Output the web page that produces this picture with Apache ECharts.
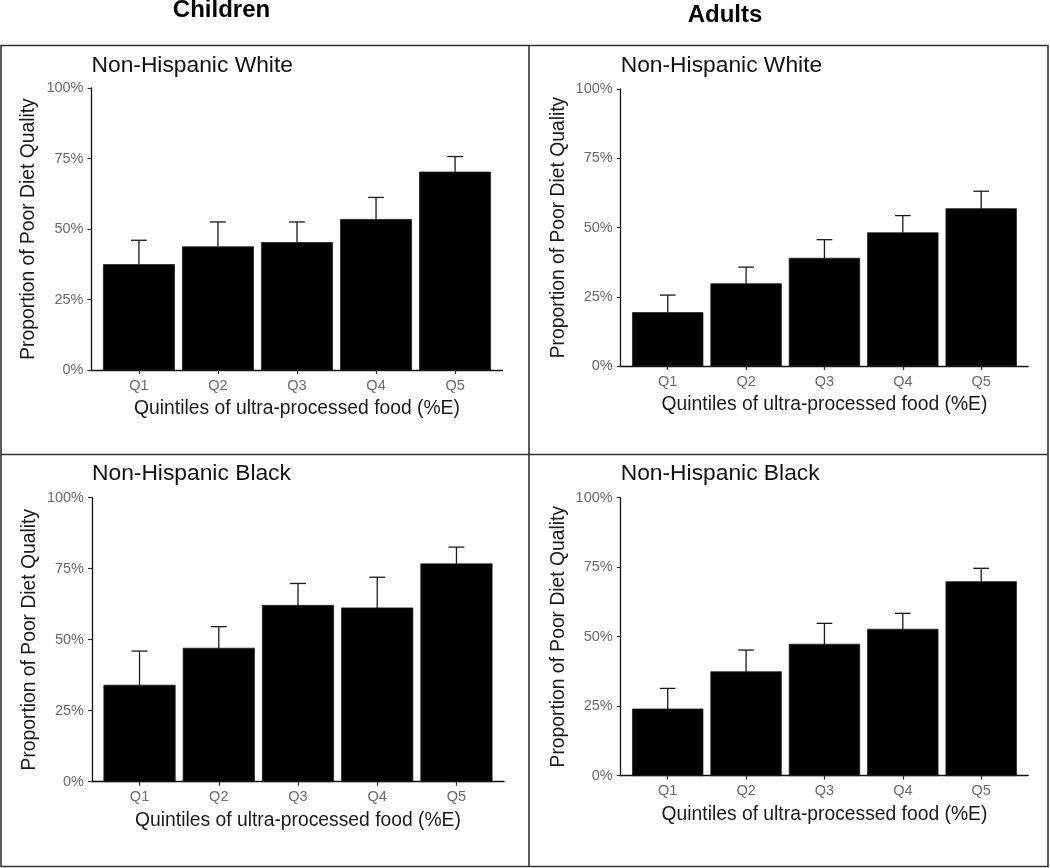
<!DOCTYPE html>
<html>
<head>
<meta charset="utf-8">
<script src="https://cdn.jsdelivr.net/npm/echarts@6/dist/echarts.min.js"></script>
<style>
html,body{margin:0;padding:0;background:#fff;}
#chart{width:1050px;height:868px;}
</style>
</head>
<body>
<div id="chart"></div>
<script>
// ---- data (percent) ----
const categories = ['Q1', 'Q2', 'Q3', 'Q4', 'Q5'];
const yTicks = [0, 25, 50, 75, 100];
const columnHeaders = ['Children', 'Adults'];
const panelTitles = ['Non-Hispanic White', 'Non-Hispanic White', 'Non-Hispanic Black', 'Non-Hispanic Black'];
const yTitle = 'Proportion of Poor Diet Quality';
const xTitle = 'Quintiles of ultra-processed food (%E)';

const childWhite      = [37.4, 43.7, 45.2, 53.4, 70.2];
const childWhiteUpper = [46.0, 52.5, 52.5, 61.2, 75.7];
const adultWhite      = [19.3, 29.7, 38.9, 48.1, 56.8];
const adultWhiteUpper = [25.6, 35.7, 45.6, 54.3, 63.1];
const childBlack      = [34.0, 47.0, 62.1, 61.2, 76.7];
const childBlackUpper = [46.0, 54.6, 69.8, 72.0, 82.6];
const adultBlack      = [24.0, 37.4, 47.3, 52.7, 69.8];
const adultBlackUpper = [31.4, 45.2, 54.8, 58.4, 74.6];

const panels = [
  {vals: childWhite, upper: childWhiteUpper, title: panelTitles[0], titleY: 66, grid: {left: 91.5, width: 411, top: 88, height: 282}},
  {vals: adultWhite, upper: adultWhiteUpper, title: panelTitles[1], titleY: 66, grid: {left: 620.7, width: 407.5, top: 89, height: 277}},
  {vals: childBlack, upper: childBlackUpper, title: panelTitles[2], titleY: 474, grid: {left: 92, width: 412, top: 497.7, height: 284}},
  {vals: adultBlack, upper: adultBlackUpper, title: panelTitles[3], titleY: 474, grid: {left: 620.7, width: 407.5, top: 497.7, height: 278}}
];

const FONT = "'Liberation Sans', Arial, Helvetica, sans-serif";
const chart = echarts.init(document.getElementById('chart'), null, {renderer: 'canvas'});

const grids = [], xAxes = [], yAxes = [], series = [], graphics = [];
const positions = categories.map((c, i) => i + 1);

panels.forEach((p, k) => {
  grids.push({left: p.grid.left, width: p.grid.width, top: p.grid.top, height: p.grid.height, containLabel: false});
  xAxes.push({
    type: 'value', gridIndex: k, min: 0.4, max: 5.6,
    axisLine: {show: true, onZero: false, lineStyle: {color: '#111', width: 1.3}},
    axisTick: {show: true, customValues: positions, length: 4, lineStyle: {color: '#333', width: 1.2}},
    axisLabel: {show: true, customValues: positions, margin: 8, color: '#6b6b6b', fontSize: 14.5, fontFamily: FONT,
      formatter: v => categories[Math.round(v) - 1] || ''},
    splitLine: {show: false},
    name: xTitle, nameLocation: 'middle', nameGap: 29,
    nameTextStyle: {color: '#1a1a1a', fontSize: 19.3, fontFamily: FONT}
  });
  yAxes.push({
    type: 'value', gridIndex: k, min: 0, max: 100, interval: 25,
    axisLine: {show: true, lineStyle: {color: '#111', width: 1.3}},
    axisTick: {show: true, length: 4, lineStyle: {color: '#333', width: 1.2}},
    axisLabel: {margin: 8, color: '#6b6b6b', fontSize: 14.5, fontFamily: FONT, formatter: '{value}%'},
    splitLine: {show: false},
    name: yTitle, nameLocation: 'middle', nameGap: 53,
    nameTextStyle: {color: '#1a1a1a', fontSize: 19.3, fontFamily: FONT}
  });
  series.push({
    type: 'custom', xAxisIndex: k, yAxisIndex: k, z: 2,
    data: p.vals.map((v, i) => [positions[i], v]),
    renderItem: (params, api) => {
      const x = api.value(0), y = api.value(1);
      const a = api.coord([x - 0.45, y]);
      const b = api.coord([x + 0.45, 0]);
      return {type: 'rect', shape: {x: a[0], y: a[1], width: b[0] - a[0], height: b[1] - a[1]},
        style: {fill: '#000', stroke: '#222', lineWidth: 0.8}};
    }
  });
  series.push({
    type: 'custom', xAxisIndex: k, yAxisIndex: k, z: 3,
    data: p.vals.map((v, i) => [positions[i], v, p.upper[i]]),
    renderItem: (params, api) => {
      const x = api.value(0), y = api.value(1), u = api.value(2);
      const base = api.coord([x, y]);
      const top = api.coord([x, u]);
      const cl = api.coord([x - 0.1, u]);
      const cr = api.coord([x + 0.1, u]);
      return {type: 'group', children: [
        {type: 'line', shape: {x1: base[0], y1: base[1], x2: top[0], y2: top[1]}, style: {stroke: '#1a1a1a', lineWidth: 1.3}},
        {type: 'line', shape: {x1: cl[0], y1: cl[1], x2: cr[0], y2: cr[1]}, style: {stroke: '#1a1a1a', lineWidth: 1.3}}
      ]};
    }
  });
  graphics.push({
    type: 'text', x: p.grid.left, y: p.titleY,
    style: {text: p.title, fill: '#111', fontSize: 22.8, fontFamily: FONT, align: 'left', verticalAlign: 'middle'}
  });
});

// column headers
graphics.push({type: 'text', x: 221.5, y: 10.5, style: {text: columnHeaders[0], fill: '#000', fontSize: 24, fontWeight: 'bold', fontFamily: FONT, align: 'center', verticalAlign: 'middle'}});
graphics.push({type: 'text', x: 725, y: 15, style: {text: columnHeaders[1], fill: '#000', fontSize: 24, fontWeight: 'bold', fontFamily: FONT, align: 'center', verticalAlign: 'middle'}});
// panel borders
const borderStyle = {stroke: '#333', lineWidth: 1.6, fill: null};
graphics.push({type: 'rect', shape: {x: 1, y: 45.5, width: 1047, height: 821}, style: borderStyle, silent: true});
graphics.push({type: 'line', shape: {x1: 529, y1: 45.5, x2: 529, y2: 866.5}, style: borderStyle, silent: true});
graphics.push({type: 'line', shape: {x1: 1, y1: 454.5, x2: 1048, y2: 454.5}, style: borderStyle, silent: true});

chart.setOption({
  animation: false,
  backgroundColor: '#fff',
  grid: grids,
  xAxis: xAxes,
  yAxis: yAxes,
  series: series,
  graphic: graphics
});
</script>
</body>
</html>
